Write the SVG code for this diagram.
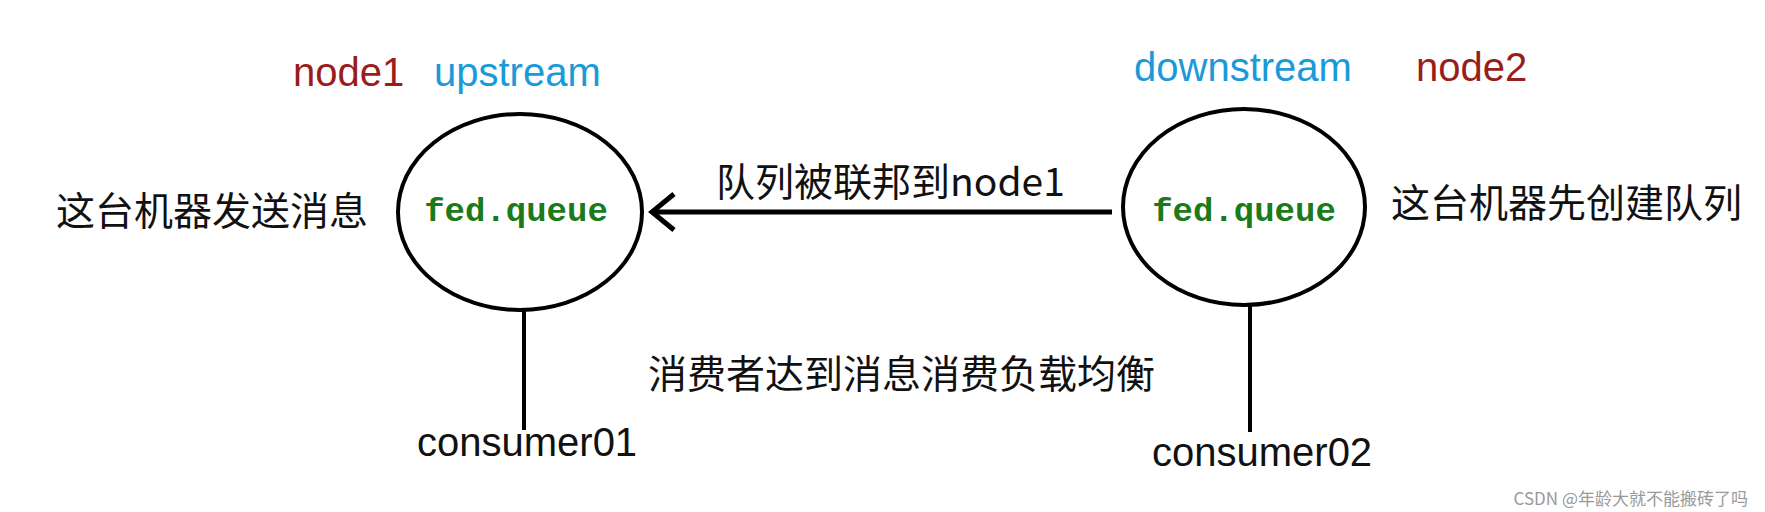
<svg xmlns="http://www.w3.org/2000/svg" width="1765" height="512" viewBox="0 0 1765 512">
<defs>
<style>
.t{font-family:"Liberation Sans","Noto Sans CJK SC",sans-serif;font-size:40px;fill:#111}
.c{font-family:"Noto Sans CJK SC","Liberation Sans",sans-serif;font-size:39px;fill:#111}
.red{fill:#9b1c1c}.blue{fill:#1a9ad8}
.q{font-family:"Liberation Mono",monospace;font-weight:bold;font-size:34px;fill:#1b7a1b}
.e{fill:#fff;stroke:#000;stroke-width:4}
.l{stroke:#000;stroke-width:4;fill:none}
</style>
</defs>
<rect width="1765" height="512" fill="#fff"/>
<g id="connectors">
<line class="l" x1="1112" y1="212" x2="652" y2="212" style="stroke-width:5"/>
<path class="l" d="M674,194 L652,212 L674,230" style="stroke-width:5"/>
<line class="l" x1="524" y1="310" x2="524" y2="430"/>
<line class="l" x1="1250" y1="305" x2="1250" y2="432"/>
</g>
<g id="node1">
<ellipse class="e" cx="520" cy="212" rx="122" ry="98"/>
<text class="q" x="516" y="221" text-anchor="middle">fed.queue</text>
<text class="t red" x="293" y="86">node1</text>
<text class="t blue" x="434" y="86">upstream</text>
<text class="c" x="56" y="225">这台机器发送消息</text>
</g>
<g id="node2">
<ellipse class="e" cx="1244" cy="207" rx="121" ry="98"/>
<text class="q" x="1244" y="221" text-anchor="middle">fed.queue</text>
<text class="t blue" x="1134" y="81">downstream</text>
<text class="t red" x="1416" y="81">node2</text>
<text class="c" x="1391" y="217">这台机器先创建队列</text>
</g>
<g id="consumer01"><text class="t" x="417" y="456">consumer01</text></g>
<g id="consumer02"><text class="t" x="1152" y="466">consumer02</text></g>
<text class="c" x="716" y="196">队列被联邦到node1</text>
<text class="c" x="648" y="388">消费者达到消息消费负载均衡</text>
<text x="1748" y="505" text-anchor="end" style="font-family:'Noto Sans CJK SC',sans-serif;font-size:17px;fill:#999">CSDN @年龄大就不能搬砖了吗</text>
</svg>
